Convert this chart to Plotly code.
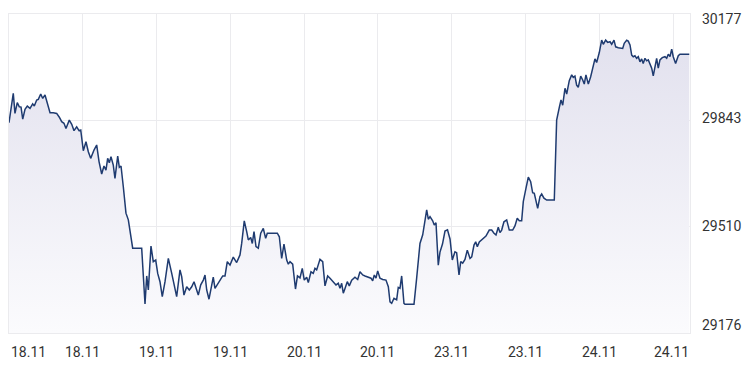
import plotly.graph_objects as go

# time position (in tenths of a label interval) and index level
t = [0, 0.58, 0.81, 1.12, 1.40, 1.63, 1.86, 2.17, 2.48, 2.85, 3.21, 3.43, 3.75, 3.97, 4.30, 4.57, 4.88,
     5.19, 5.56, 6.00, 6.46, 6.82, 7.14, 7.45, 7.72, 8.17, 8.50, 8.81, 9.17, 9.49, 9.72, 10.07, 10.43,
     10.75, 11.07, 11.52, 11.88, 12.20, 12.56, 12.87, 13.14, 13.37, 13.59, 13.82, 14.13, 14.36, 14.73,
     14.95, 15.18, 15.49, 15.85, 16.17, 16.76, 17.98, 18.43, 18.66, 18.88, 19.24, 19.55, 19.88, 20.15,
     20.46, 20.77, 21.14, 21.59, 22.05, 22.40, 22.72, 23.17, 23.40, 23.71, 24.08, 24.43, 24.76, 25.07,
     25.34, 25.65, 25.98, 26.33, 26.56, 26.79, 27.10, 27.47, 27.68, 27.91, 28.22, 28.59, 28.96, 29.27,
     29.58, 29.95, 30.39, 30.85, 31.30, 31.53, 31.88, 32.21, 32.43, 32.75, 32.97, 33.20, 33.47, 33.78,
     34.11, 34.46, 34.78, 35.00, 36.36, 36.63, 36.95, 37.26, 37.63, 37.85, 38.08, 38.44, 38.82, 39.09,
     39.43, 39.74, 40.01, 40.34, 40.56, 40.92, 41.23, 41.46, 41.69, 42.14, 42.51, 42.82, 43.18, 43.50,
     43.94, 44.31, 44.62, 44.85, 45.08, 45.30, 45.53, 45.84, 46.11, 46.44, 46.88, 47.25, 47.56, 47.93,
     48.24, 48.69, 49.05, 49.28, 49.50, 49.73, 49.96, 50.27, 50.64, 51.08, 51.40, 51.63, 51.86, 52.17,
     52.53, 52.75, 52.98, 53.21, 53.52, 53.66, 54.88, 55.24, 55.69, 56.06, 56.37, 56.60, 56.82, 57.05,
     57.41, 57.63, 57.86, 58.17, 58.40, 58.74, 59.08, 59.42, 59.76, 60.07, 60.43, 60.66, 60.98, 61.21,
     61.48, 61.79, 62.10, 62.47, 62.70, 63.01, 63.24, 63.46, 63.73, 64.19, 64.63, 65.08, 65.41, 65.72,
     65.99, 66.30, 66.53, 66.76, 67.07, 67.44, 67.79, 68.25, 68.56, 68.87, 69.15, 69.47, 69.69, 70.05,
     70.37, 70.69, 70.96, 71.18, 71.41, 71.64, 71.95, 72.18, 72.49, 72.86, 73.89, 74.21, 74.57, 74.80,
     75.03, 75.34, 75.57, 75.92, 76.25, 76.46, 76.69, 76.92, 77.14, 77.47, 77.74, 77.95, 78.18, 78.50,
     78.82, 79.17, 79.40, 79.63, 79.99, 80.31, 80.53, 80.85, 81.12, 81.44, 81.67, 81.98, 82.21, 82.56,
     82.93, 83.16, 83.37, 83.70, 83.91, 84.15, 84.38, 84.59, 84.82, 85.05, 85.27, 85.50, 85.73, 85.94,
     86.18, 86.41, 86.63, 86.86, 87.09, 87.30, 87.53, 87.76, 87.98, 88.21, 88.52, 88.89, 89.12, 89.34,
     89.57, 89.80, 90.01, 90.33, 90.69, 90.92, 92.18]

price = [29836, 29928, 29865, 29899, 29886, 29885, 29847, 29878, 29888, 29881, 29895, 29888, 29907, 29909,
         29926, 29912, 29923, 29899, 29867, 29867, 29865, 29853, 29839, 29834, 29818, 29844, 29831, 29811,
         29823, 29811, 29813, 29748, 29776, 29745, 29724, 29750, 29766, 29714, 29675, 29700, 29687, 29724,
         29710, 29729, 29703, 29661, 29731, 29696, 29700, 29635, 29552, 29531, 29442, 29442, 29267, 29355,
         29311, 29449, 29400, 29405, 29363, 29337, 29290, 29337, 29410, 29363, 29324, 29290, 29374, 29353,
         29295, 29321, 29311, 29321, 29337, 29316, 29295, 29327, 29342, 29358, 29311, 29282, 29327, 29351,
         29316, 29327, 29342, 29355, 29355, 29400, 29389, 29414, 29397, 29421, 29457, 29528, 29494, 29468,
         29476, 29457, 29494, 29447, 29442, 29489, 29504, 29473, 29489, 29489, 29478, 29410, 29455, 29405,
         29392, 29400, 29392, 29314, 29355, 29349, 29379, 29342, 29351, 29334, 29368, 29363, 29379, 29374,
         29407, 29400, 29324, 29355, 29348, 29337, 29327, 29332, 29316, 29332, 29301, 29316, 29337, 29324,
         29342, 29351, 29344, 29368, 29358, 29355, 29351, 29348, 29340, 29358, 29348, 29371, 29348, 29344,
         29342, 29321, 29274, 29269, 29285, 29280, 29319, 29316, 29355, 29269, 29266, 29266, 29348, 29457,
         29484, 29531, 29562, 29533, 29541, 29528, 29515, 29522, 29389, 29430, 29455, 29496, 29500, 29471,
         29405, 29431, 29428, 29358, 29400, 29395, 29407, 29436, 29410, 29415, 29452, 29462, 29447, 29462,
         29470, 29480, 29499, 29499, 29489, 29484, 29508, 29491, 29499, 29525, 29531, 29499, 29499, 29512,
         29536, 29528, 29528, 29588, 29630, 29665, 29651, 29616, 29614, 29593, 29567, 29604, 29612, 29599,
         29593, 29593, 29844, 29884, 29907, 29891, 29944, 29926, 29968, 29986, 29978, 29982, 29954, 29947,
         29982, 29970, 29957, 29986, 29957, 29980, 30014, 30036, 30025, 30056, 30095, 30082, 30095, 30088,
         30090, 30082, 30095, 30074, 30071, 30071, 30069, 30085, 30095, 30092, 30080, 30048, 30043, 30046,
         30038, 30043, 30027, 30036, 30022, 30038, 30030, 30033, 30019, 30007, 29983, 30015, 30038, 30007,
         30033, 30040, 30043, 30038, 30051, 30043, 30067, 30043, 30022, 30046, 30051, 30051]

x_tick_pos = [0, 10, 20, 30, 40, 50, 60, 70, 80, 90]
x_tick_labels = ["18.11", "18.11", "19.11", "19.11", "20.11", "20.11", "23.11", "23.11", "24.11", "24.11"]
y_ticks = [29176, 29510, 29843, 30177]
y_label_shift = [8, 1, 2, -5]

X_MAX = 92.28
FONT = dict(family="Roboto, 'Open Sans', sans-serif", size=14, color="#333333")
GRID = "#ebebee"

fig = go.Figure()
fig.add_trace(go.Scatter(
    x=t, y=price, mode="lines",
    line=dict(color="#1f3b70", width=1.5),
    fill="tozeroy",
    fillgradient=dict(type="vertical", start=29176, stop=30177,
                      colorscale=[[0, "rgb(251,251,253)"], [1, "rgb(224,223,237)"]]),
    hoverinfo="skip",
))

annotations = []
for i, (pos, lab) in enumerate(zip(x_tick_pos, x_tick_labels)):
    annotations.append(dict(
        x=pos, y=0, xref="x", yref="paper", text=lab, showarrow=False,
        xanchor="left" if i == 0 else "center", yanchor="top",
        yshift=-9, xshift=-2 if i == len(x_tick_pos) - 1 else 0, font=FONT,
    ))
for v, s in zip(y_ticks, y_label_shift):
    annotations.append(dict(
        x=1, y=v, xref="paper", yref="y", text=str(v), showarrow=False,
        xanchor="left", yanchor="middle", xshift=10, yshift=s, font=FONT,
    ))

fig.update_layout(
    width=749, height=365,
    margin=dict(l=9, r=59, t=14, b=32),
    paper_bgcolor="white", plot_bgcolor="white",
    showlegend=False,
    annotations=annotations,
    xaxis=dict(range=[0, X_MAX], tickvals=x_tick_pos, showticklabels=False,
               showgrid=True, gridcolor=GRID, gridwidth=1, zeroline=False,
               showline=True, linecolor=GRID, linewidth=1, mirror=True, ticks=""),
    yaxis=dict(range=[29176, 30177], tickvals=y_ticks, showticklabels=False,
               showgrid=True, gridcolor=GRID, gridwidth=1, zeroline=False,
               showline=True, linecolor=GRID, linewidth=1, mirror=True, ticks=""),
)

fig.write_html("out.html", config={"displayModeBar": False},
               post_script="document.body.style.margin='0';document.body.style.overflow='hidden';")
